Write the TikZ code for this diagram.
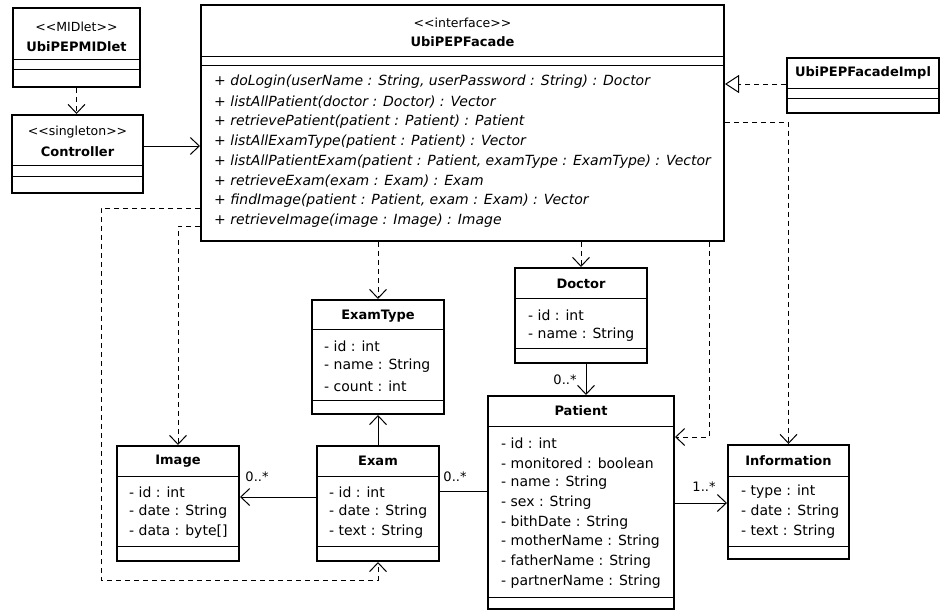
\documentclass[tikz,border=0pt]{standalone}
\usepackage{fontspec}
\setmainfont{DejaVu Sans}[Ligatures=TeXOff]
\usetikzlibrary{arrows.meta}
\begin{document}
\begin{tikzpicture}[x=1pt,y=-1pt,
  classbox/.style={draw, line width=2pt, anchor=north west, inner sep=0pt, fill=white},
  divider/.style={line width=1pt},
  txt/.style={inner sep=0pt, anchor=west, font=\fontsize{14}{16}\selectfont},
  method/.style={inner sep=0pt, anchor=west, font=\fontsize{14}{16}\selectfont\itshape},
  cname/.style={inner sep=0pt, font=\fontsize{13}{16}\selectfont\bfseries},
  stereo/.style={inner sep=0pt, font=\fontsize{12.5}{14}\selectfont},
  mult/.style={inner sep=0pt, font=\fontsize{13}{16}\selectfont},
  dep/.style={line width=1pt, dash pattern=on 5pt off 4pt, -{Straight Barb[length=9pt,width=17pt]}},
  nav/.style={line width=1pt, -{Straight Barb[length=9pt,width=17pt]}},
  assocline/.style={line width=1pt},
  realize/.style={line width=1pt, dash pattern=on 5pt off 4pt, -{Triangle[open,length=14pt,width=18pt,fill=white]}},
]
\fill[white] (0,0) rectangle (942,610);
\useasboundingbox (0,0) rectangle (942,610);

% ---------- class boxes ----------
\node[classbox, minimum width=127pt, minimum height=79pt] (mid) at (12,7) {};
\draw[divider] (mid.west |- 0,60) -- (mid.east |- 0,60);
\draw[divider] (mid.west |- 0,70) -- (mid.east |- 0,70);
\node[stereo] (mid-st) at (mid.north |- 0,27) {<<MIDlet>>};
\node[cname] (mid-nm) at (mid.north |- 0,47) {UbiPEPMIDlet};

\node[classbox, minimum width=131pt, minimum height=78pt] (ctrl) at (11,114) {};
\draw[divider] (ctrl.west |- 0,165) -- (ctrl.east |- 0,165);
\draw[divider] (ctrl.west |- 0,176) -- (ctrl.east |- 0,176);
\node[stereo] (ctrl-st) at (ctrl.north |- 0,132) {<<singleton>>};
\node[cname] (ctrl-nm) at (ctrl.north |- 0,152) {Controller};

\node[classbox, minimum width=523pt, minimum height=236pt] (fac) at (200,4) {};
\draw[divider] (fac.west |- 0,57) -- (fac.east |- 0,57);
\draw[divider] (fac.west |- 0,66) -- (fac.east |- 0,66);
\node[stereo] (fac-st) at (fac.north |- 0,23) {<<interface>>};
\node[cname] (fac-nm) at (fac.north |- 0,42) {UbiPEPFacade};
\node[method] (fac-m1) at (214,82) {+ doLogin(userName : String, userPassword : String) : Doctor};
\node[method] (fac-m2) at (214,101.8) {+ listAllPatient(doctor : Doctor) : Vector};
\node[method] (fac-m3) at (214,121.6) {+ retrievePatient(patient : Patient) : Patient};
\node[method] (fac-m4) at (214,141.4) {+ listAllExamType(patient : Patient) : Vector};
\node[method] (fac-m5) at (214,161.2) {+ listAllPatientExam(patient : Patient, examType : ExamType) : Vector};
\node[method] (fac-m6) at (214,181) {+ retrieveExam(exam : Exam) : Exam};
\node[method] (fac-m7) at (214,200.8) {+ findImage(patient : Patient, exam : Exam) : Vector};
\node[method] (fac-m8) at (214,220.6) {+ retrieveImage(image : Image) : Image};

\node[classbox, minimum width=152pt, minimum height=55pt] (impl) at (786,57) {};
\draw[divider] (impl.west |- 0,88) -- (impl.east |- 0,88);
\draw[divider] (impl.west |- 0,98) -- (impl.east |- 0,98);
\node[cname] (impl-nm) at (impl.north |- 0,73) {UbiPEPFacadeImpl};

\node[classbox, minimum width=132pt, minimum height=95pt] (doc) at (514,267) {};
\draw[divider] (doc.west |- 0,298) -- (doc.east |- 0,298);
\draw[divider] (doc.west |- 0,348) -- (doc.east |- 0,348);
\node[cname] (doc-nm) at (doc.north |- 0,284) {Doctor};
\node[txt] (doc-a1) at (528,315) {- id : int};
\node[txt] (doc-a2) at (528,335) {- name : String};

\node[classbox, minimum width=132pt, minimum height=114pt] (et) at (311,299) {};
\draw[divider] (et.west |- 0,329) -- (et.east |- 0,329);
\draw[divider] (et.west |- 0,400) -- (et.east |- 0,400);
\node[cname] (et-nm) at (et.north |- 0,316) {ExamType};
\node[txt] (et-a1) at (324,346) {- id : int};
\node[txt] (et-a2) at (324,366) {- name : String};
\node[txt] (et-a3) at (324,386) {- count : int};

\node[classbox, minimum width=122pt, minimum height=115pt] (img) at (116,445) {};
\draw[divider] (img.west |- 0,476) -- (img.east |- 0,476);
\draw[divider] (img.west |- 0,546) -- (img.east |- 0,546);
\node[cname] (img-nm) at (img.north |- 0,461) {Image};
\node[txt] (img-a1) at (129,492) {- id : int};
\node[txt] (img-a2) at (129,512) {- date : String};
\node[txt] (img-a3) at (129,532) {- data : byte[]};

\node[classbox, minimum width=122pt, minimum height=115pt] (exam) at (316,445) {};
\draw[divider] (exam.west |- 0,476) -- (exam.east |- 0,476);
\draw[divider] (exam.west |- 0,546) -- (exam.east |- 0,546);
\node[cname] (exam-nm) at (exam.north |- 0,461) {Exam};
\node[txt] (exam-a1) at (329,492) {- id : int};
\node[txt] (exam-a2) at (329,512) {- date : String};
\node[txt] (exam-a3) at (329,532) {- text : String};

\node[classbox, minimum width=186pt, minimum height=213pt] (pat) at (487,395) {};
\draw[divider] (pat.west |- 0,426) -- (pat.east |- 0,426);
\draw[divider] (pat.west |- 0,597) -- (pat.east |- 0,597);
\node[cname] (pat-nm) at (pat.north |- 0,411) {Patient};
\node[txt] (pat-a1) at (501,443) {- id : int};
\node[txt] (pat-a2) at (501,462.8) {- monitored : boolean};
\node[txt] (pat-a3) at (501,482.6) {- name : String};
\node[txt] (pat-a4) at (501,502.4) {- sex : String};
\node[txt] (pat-a5) at (501,522.2) {- bithDate : String};
\node[txt] (pat-a6) at (501,542) {- motherName : String};
\node[txt] (pat-a7) at (501,561.8) {- fatherName : String};
\node[txt] (pat-a8) at (501,581.6) {- partnerName : String};

\node[classbox, minimum width=121pt, minimum height=114pt] (info) at (727,444) {};
\draw[divider] (info.west |- 0,476) -- (info.east |- 0,476);
\draw[divider] (info.west |- 0,546) -- (info.east |- 0,546);
\node[cname] (info-nm) at (info.north |- 0,461) {Information};
\node[txt] (info-a1) at (741,492) {- type : int};
\node[txt] (info-a2) at (741,512) {- date : String};
\node[txt] (info-a3) at (741,532) {- text : String};

% ---------- relations ----------
\draw[dep] (mid.south) -- (mid.south |- ctrl.north);
\draw[nav] (ctrl.east |- 0,146) -- (fac.west |- 0,146);
\draw[realize] (impl.west |- 0,84) -- (fac.east |- 0,84);
\draw[dep] (fac.east |- 0,122) -| (info.north);
\draw[dep] (fac.south -| 709,0) |- (pat.east |- 0,437);
\draw[dep] (doc.north |- fac.south) -- (doc.north);
\draw[dep] (et.north |- fac.south) -- (et.north);
\draw[dep] (fac.west |- 0,226) -| (img.north);
\draw[dep] (fac.west |- 0,208) -| (101,580) -| (exam.south);
\draw[nav] (exam.north) -- (et.south);
\draw[nav] (exam.west |- 0,497) -- (img.east |- 0,497);
\draw[assocline] (exam.east |- 0,491) -- (pat.west |- 0,491);
\draw[nav] (doc.south -| 586,0) -- (pat.north -| 586,0);
\draw[nav] (pat.east |- 0,503) -- (info.west |- 0,503);

% ---------- multiplicities ----------
\node[mult] (m-img) at (257,477) {0..*};
\node[mult] (m-exam) at (455,477) {0..*};
\node[mult] (m-doc) at (565,380) {0..*};
\node[mult] (m-info) at (704,487) {1..*};
\end{tikzpicture}
\end{document}
